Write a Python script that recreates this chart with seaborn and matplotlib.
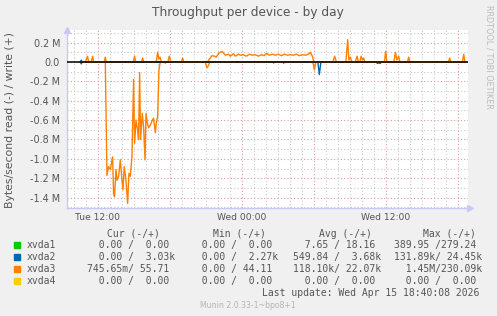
import matplotlib
matplotlib.use("Agg")
import numpy as np
import pandas as pd
import matplotlib.pyplot as plt
import seaborn as sns
from matplotlib.ticker import MultipleLocator, FixedLocator, FuncFormatter
from matplotlib.patches import Rectangle

# ---------------- data (hours since Tue 00:00, values in MB/s) ----------------
xvda3_write_t = [10.60, 10.94, 11.13, 11.23, 11.44, 11.55, 11.65, 12.53, 12.61, 12.69,
                 14.94, 15.05, 15.15, 15.61, 15.72, 15.82, 16.86, 16.97, 17.07, 17.17,
                 17.28, 17.82, 17.94, 18.07, 18.94, 19.05, 19.15, 21.11, 21.22, 21.50,
                 21.72, 21.86, 22.05, 22.33, 22.61, 22.86, 23.03, 23.28, 23.44, 23.69,
                 23.86, 24.11, 24.36, 24.61, 24.86, 25.11, 25.36, 25.61, 25.86, 26.03,
                 26.28, 26.53, 26.78, 27.03, 27.28, 27.53, 27.78, 28.03, 28.28, 28.53,
                 28.78, 29.03, 29.28, 29.53, 29.69, 29.86, 29.98, 31.57, 31.72, 31.86,
                 32.65, 32.80, 32.90, 33.03, 33.15, 33.44, 33.58, 33.69, 33.82, 33.92,
                 34.03, 34.13, 34.23, 35.86, 35.97, 36.07, 36.65, 36.78, 36.90, 37.05,
                 37.15, 37.78, 37.88, 37.98, 41.19, 41.30, 41.40, 42.36, 42.47, 42.57,
                 42.67]
xvda3_write_v = [0.0, 0.0, 0.058, 0.0, 0.0, 0.058, 0.0, 0.0, 0.05, 0.0,
                 0.0, 0.06, 0.0, 0.0, 0.04, 0.0, 0.0, 0.10, 0.03, 0.05,
                 0.0, 0.0, 0.06, 0.0, 0.0, 0.04, 0.0, 0.0, 0.02, 0.065,
                 0.06, 0.05, 0.09, 0.11, 0.07, 0.08, 0.06, 0.085, 0.06, 0.08,
                 0.07, 0.075, 0.06, 0.08, 0.07, 0.075, 0.06, 0.075, 0.065, 0.09,
                 0.07, 0.08, 0.07, 0.08, 0.065, 0.08, 0.07, 0.075, 0.07, 0.08,
                 0.065, 0.075, 0.07, 0.08, 0.10, 0.06, 0.0, 0.0, 0.06, 0.0,
                 0.0, 0.23, 0.02, 0.05, 0.0, 0.0, 0.06, 0.0, 0.0, 0.06,
                 0.02, 0.04, 0.0, 0.0, 0.11, 0.0, 0.0, 0.10, 0.02, 0.06,
                 0.0, 0.0, 0.05, 0.0, 0.0, 0.04, 0.0, 0.0, 0.08, 0.0,
                 0.0]

xvda3_read_t = [10.60, 12.61, 12.75, 12.88, 13.03, 13.22, 13.30, 13.38, 13.50, 13.58,
                13.72, 13.86, 14.00, 14.08, 14.19, 14.33, 14.47, 14.58, 14.69, 14.83,
                14.97, 15.05, 15.17, 15.30, 15.38, 15.47, 15.55, 15.69, 15.80, 15.92,
                16.00, 16.11, 16.22, 16.36, 16.50, 16.63, 16.78, 16.86, 16.97, 17.08,
                17.19, 20.94, 21.07, 21.19, 21.32, 29.90, 30.03, 30.15, 42.67]
xvda3_read_v = [0.0, 0.0, -1.17, -1.08, -1.11, -0.98, -1.36, -1.39, -1.11, -1.22,
                -1.18, -1.01, -1.22, -1.32, -1.08, -1.22, -1.46, -1.15, -1.18, -0.98,
                -0.18, -0.84, -0.60, -0.70, -0.80, -0.11, -0.80, -0.53, -0.67, -1.01,
                -0.53, -0.63, -0.68, -0.65, -0.61, -0.58, -0.73, -0.63, -0.56, -0.08,
                0.0, 0.0, -0.06, -0.04, 0.0, 0.0, -0.08, 0.0, 0.0]

xvda2_write_t = [10.53, 10.61, 10.69, 42.67]
xvda2_write_v = [0.0, 0.02, 0.0, 0.0]
xvda2_read_t = [10.53, 10.61, 10.69, 17.53, 17.61, 17.69, 26.55, 26.63, 26.71, 27.39,
                27.47, 27.55, 30.32, 30.44, 30.57, 35.19, 35.27, 35.38, 35.52, 35.60, 42.67]
xvda2_read_v = [0.0, -0.02, 0.0, 0.0, -0.01, 0.0, 0.0, -0.01, 0.0, 0.0,
                -0.012, 0.0, 0.0, -0.13, 0.0, 0.0, -0.015, -0.01, -0.015, 0.0, 0.0]

x_tick_pos = [12, 18, 24, 30, 36, 42]
x_tick_labels = ["Tue 12:00", "", "Wed 00:00", "", "Wed 12:00", ""]

legend_names = ["xvda1", "xvda2", "xvda3", "xvda4"]
legend_colors = ["#00CC00", "#0066B3", "#FF8000", "#FFCC00"]
legend_headers = ["Cur (-/+)", "Min (-/+)", "Avg (-/+)", "Max (-/+)"]
cur_vals = ["  0.00 /  0.00 ", "  0.00 /  3.03k", "745.65m/ 55.71 ", "  0.00 /  0.00 "]
min_vals = ["  0.00 /  0.00 ", "  0.00 /  2.27k", "  0.00 / 44.11 ", "  0.00 /  0.00 "]
avg_vals = ["  7.65 / 18.16 ", "549.84 /  3.68k", "118.10k/ 22.07k", "  0.00 /  0.00 "]
max_vals = ["389.95 /279.24 ", "131.89k/ 24.45k", "  1.45M/230.09k", "  0.00 /  0.00 "]

title = "Throughput per device - by day"
ylabel = "Bytes/second read (-) / write (+)"
last_update = "Last update: Wed Apr 15 18:40:08 2026"
version = "Munin 2.0.33-1~bpo8+1"
side_text = "RRDTOOL / TOBI OETIKER"

# ---------------- figure ----------------
sns.set_style("white")
plt.rcParams['font.family'] = ['DejaVu Sans']

W, H = 497, 316
fig = plt.figure(figsize=(W / 100, H / 100), dpi=100, facecolor="#F0F0F0")
L, R, T, B = 67, 467.7, 30, 208
ax = fig.add_axes([L / W, 1 - B / H, (R - L) / W, (B - T) / H])
ax.set_facecolor("white")

frames = []
for name, t, v in [("xvda2w", xvda2_write_t, xvda2_write_v),
                   ("xvda2r", xvda2_read_t, xvda2_read_v),
                   ("xvda3w", xvda3_write_t, xvda3_write_v),
                   ("xvda3r", xvda3_read_t, xvda3_read_v)]:
    frames.append(pd.DataFrame({"t": t, "v": v, "s": name}))
df = pd.concat(frames, ignore_index=True)
pal = {"xvda2w": "#0066B3", "xvda2r": "#0066B3", "xvda3w": "#FF8000", "xvda3r": "#FF8000"}
sns.lineplot(data=df, x="t", y="v", hue="s", units="s", estimator=None, sort=False,
             palette=pal, linewidth=1.0, legend=False, ax=ax, zorder=3)
ax.axhline(0, color="black", lw=1.1, zorder=4)

ax.set_xlim(9.42, 42.8)
ax.set_ylim(-1.507, 0.33)

ax.xaxis.set_major_locator(FixedLocator(x_tick_pos))
ax.set_xticklabels(x_tick_labels)
ax.xaxis.set_minor_locator(MultipleLocator(1))
ax.yaxis.set_major_locator(MultipleLocator(0.2))
ax.yaxis.set_minor_locator(MultipleLocator(0.1))
ax.yaxis.set_major_formatter(FuncFormatter(
    lambda v, p: "0.0" if abs(v) < 1e-9 else f"{v:.1f} M"))

ax.set_axisbelow(True)
ax.grid(which="minor", color="#C8C8C8", ls=(0, (1, 2)), lw=0.8)
ax.grid(which="major", color="#E09898", ls=(0, (1, 2)), lw=0.8)

for s in ["top", "right"]:
    ax.spines[s].set_visible(False)
for s in ["left", "bottom"]:
    ax.spines[s].set_color("#C8C8F8")
    ax.spines[s].set_linewidth(1.0)

ax.tick_params(axis="y", which="both", length=0, pad=5, labelsize=6.9, labelcolor="#555555")
ax.tick_params(axis="x", which="both", length=0, pad=3.5, labelsize=6.6, labelcolor="#555555")
ax.set_xlabel("")
ax.set_ylabel("")

# axis arrows
ax.plot([0], [1.0], marker="^", color="#C8C8F8", markersize=4, transform=ax.transAxes,
        clip_on=False)
ax.plot([1.006], [0], marker=">", color="#C8C8F8", markersize=4, transform=ax.transAxes,
        clip_on=False)

def fx(px):
    return px / W

def fy(py):
    return 1 - py / H

fig.text(fx(248), fy(12.5), title, ha="center", va="center", fontsize=8.7, color="#555555")
fig.text(fx(10.5), fy(120), ylabel, rotation=90, ha="center", va="center",
         fontsize=7.8, color="#555555")
fig.text(fx(489), fy(57), side_text, rotation=270, ha="center", va="center",
         fontsize=5.9, color="#BBBBBB")

mono = "DejaVu Sans Mono"
fs = 7.05
hdr_x = [107.3, 213.3, 318.7, 423.3]
col_x = [87.3, 189.9, 292.6, 394.3]
for hx, h in zip(hdr_x, legend_headers):
    fig.text(fx(hx), fy(234), h, ha="left", va="center", fontsize=fs,
             family=mono, color="#555555")
row_y = [245.3, 257.3, 269.3, 281.3]
for i, name in enumerate(legend_names):
    y = row_y[i]
    fig.patches.append(Rectangle((fx(14), fy(y + 3)), 6 / W, 6 / H,
                                 transform=fig.transFigure, color=legend_colors[i]))
    fig.text(fx(26.7), fy(y), name, ha="left", va="center", fontsize=fs,
             family=mono, color="#555555")
    for cx, vals in zip(col_x, [cur_vals, min_vals, avg_vals, max_vals]):
        fig.text(fx(cx), fy(y), vals[i], ha="left", va="center", fontsize=fs,
                 family=mono, color="#555555")
fig.text(fx(261.7), fy(292.7), last_update, ha="left", va="center", fontsize=fs,
         family=mono, color="#555555")
fig.text(fx(248), fy(305.3), version, ha="center", va="center", fontsize=5.6,
         color="#B4B4B4")

fig.savefig("out.png", dpi=100, facecolor=fig.get_facecolor())
